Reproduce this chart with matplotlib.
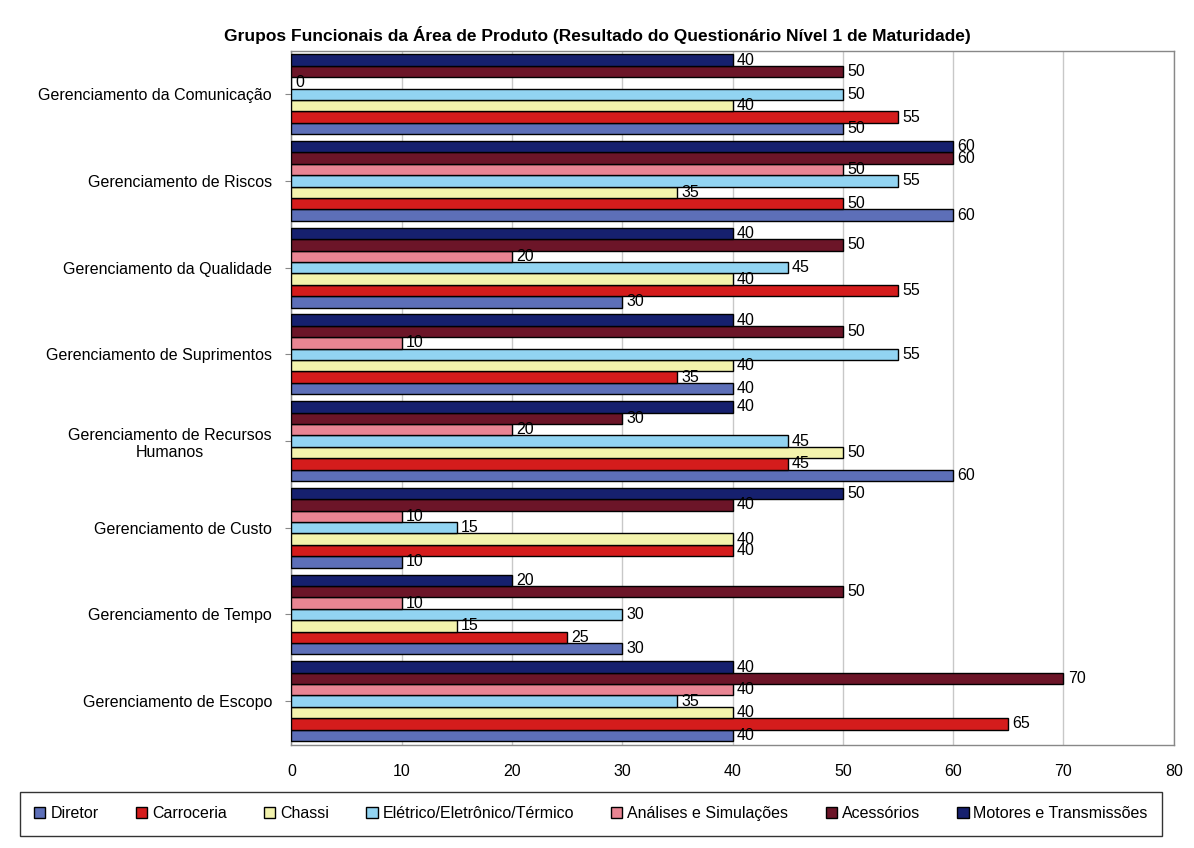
#!/usr/bin/env python3
"""Grupos funcionais da área de produto - barras horizontais agrupadas."""

import matplotlib

matplotlib.use("Agg")
import matplotlib.pyplot as plt
import numpy as np

categories = [
    "Gerenciamento de Escopo",
    "Gerenciamento de Tempo",
    "Gerenciamento de Custo",
    "Gerenciamento de Recursos\nHumanos",
    "Gerenciamento de Suprimentos",
    "Gerenciamento da Qualidade",
    "Gerenciamento de Riscos",
    "Gerenciamento da Comunicação",
]

series_names = [
    "Diretor",
    "Carroceria",
    "Chassi",
    "Elétrico/Eletrônico/Térmico",
    "Análises e Simulações",
    "Acessórios",
    "Motores e Transmissões",
]

# values per category, ordered as in categories (bottom to top)
diretor = [40, 30, 10, 60, 40, 30, 60, 50]
carroceria = [65, 25, 40, 45, 35, 55, 50, 55]
chassi = [40, 15, 40, 50, 40, 40, 35, 40]
eletrico = [35, 30, 15, 45, 55, 45, 55, 50]
analises = [40, 10, 10, 20, 10, 20, 50, 0]
acessorios = [70, 50, 40, 30, 50, 50, 60, 50]
motores = [40, 20, 50, 40, 40, 40, 60, 40]

series_values = [diretor, carroceria, chassi, eletrico, analises, acessorios, motores]
colors = ["#5d6fb8", "#d41c1c", "#f3f3ad", "#92d4f2", "#e98593", "#6c1528", "#16206e"]

plt.rcParams["font.family"] = ["Liberation Sans", "DejaVu Sans"]

fig = plt.figure(figsize=(11.94, 8.48), dpi=100)
ax = fig.add_axes([0.244, 0.122, 0.739, 0.818])

y = np.arange(len(categories))
n = len(series_names)
h = 0.92 / n
handles = []
for i, (name, vals, col) in enumerate(zip(series_names, series_values, colors)):
    pos = y + (i - (n - 1) / 2) * h
    bars = ax.barh(pos, vals, height=h, color=col, edgecolor="black",
                   linewidth=1.0, label=name, zorder=3)
    handles.append(bars)
    for p, v in zip(pos, vals):
        ax.text(v + 0.4, p, f"{v}", va="center", ha="left", fontsize=11.5,
                color="black", zorder=4)

ax.set_xlim(0, 80)
ax.set_ylim(-0.5, len(categories) - 0.5)
ax.set_xticks(range(0, 81, 10))
ax.set_yticks(y)
ax.set_yticklabels(categories, fontsize=11.5, ha="right", multialignment="center")
ax.tick_params(axis="y", pad=10, length=4, color="#888888")
ax.tick_params(axis="x", length=0, pad=14, labelsize=11.5)
ax.grid(axis="x", color="#c8c8c8", linewidth=1.0, zorder=0)
for s in ax.spines.values():
    s.set_color("#888888")
    s.set_linewidth(1.0)

fig.text(0.5, 0.948, "Grupos Funcionais da Área de Produto "
         "(Resultado do Questionário Nível 1 de Maturidade)",
         ha="center", va="bottom", fontsize=12.5, fontweight="bold")

leg = fig.legend(handles=handles, loc="lower left", ncol=7,
                 bbox_to_anchor=(0.01, 0.005, 0.97, 0.06), mode="expand",
                 fontsize=11.5, frameon=True, fancybox=False,
                 handlelength=0.7, handleheight=0.7, handletextpad=0.3,
                 borderpad=0.9, columnspacing=1.0)
leg.get_frame().set_edgecolor("black")
leg.get_frame().set_linewidth(1.0)

fig.savefig("out.png", dpi=100)
